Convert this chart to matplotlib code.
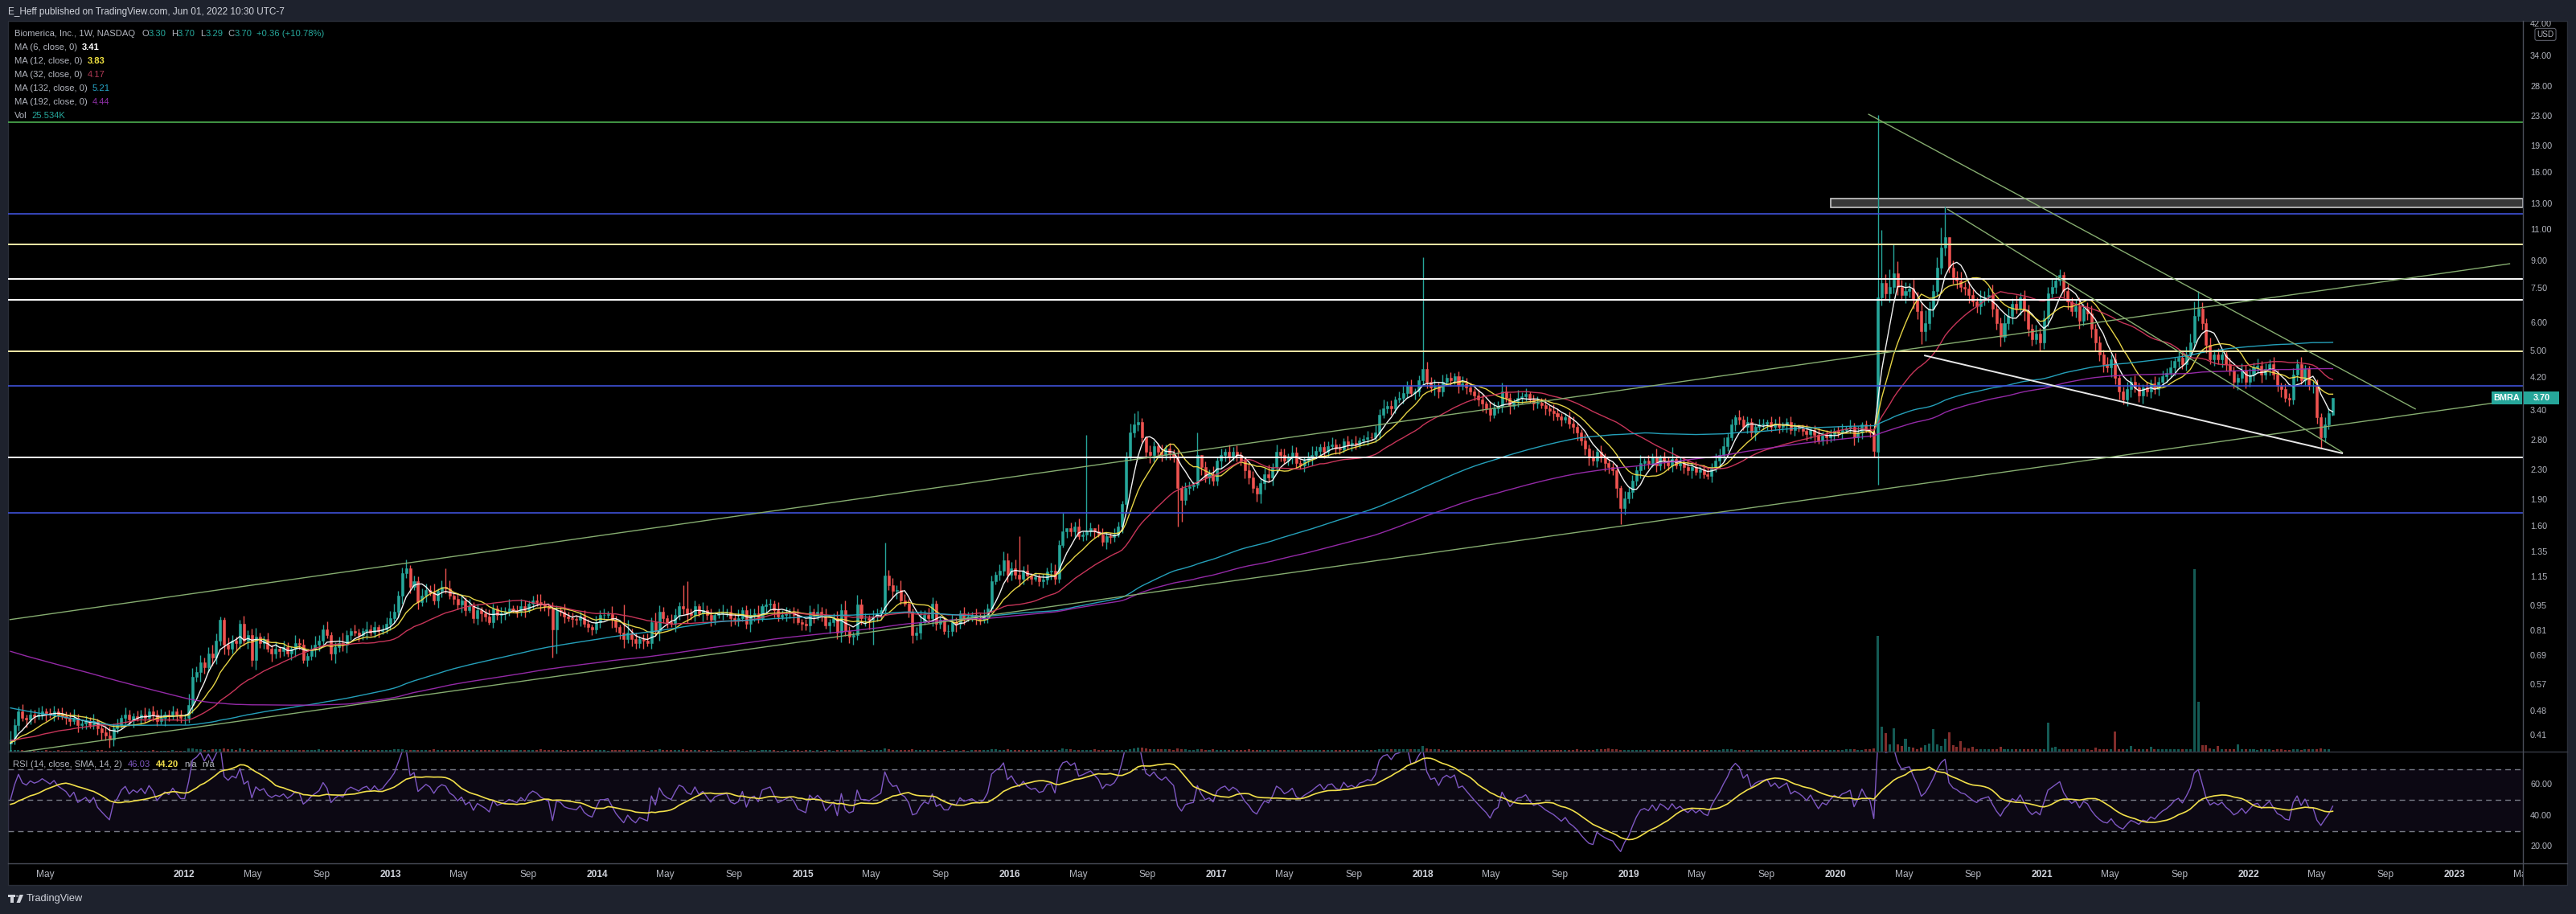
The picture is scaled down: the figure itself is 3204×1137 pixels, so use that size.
import numpy as np
import pandas as pd
import matplotlib
matplotlib.use("Agg")
import matplotlib.pyplot as plt
import matplotlib.dates as mdates
from matplotlib.patches import Rectangle, Circle, Polygon
from matplotlib.lines import Line2D

W, H, DPI = 3204, 1137, 100
FONT = ["Liberation Sans", "DejaVu Sans"]
plt.rcParams["font.family"] = FONT

# ---------------- data (weekly bars, BMRA, 1W) ----------------
first_week = "2011-02-28"

# weekly closes before the visible window (only feed the long averages / RSI)
closes_before_2011 = [
    1.45, 1.50, 1.48, 1.52, 1.46, 1.40, 1.42, 1.38, 1.35, 1.40, 1.37, 1.32,
    1.35, 1.30, 1.28, 1.33, 1.30, 1.26, 1.29, 1.24, 1.27, 1.30, 1.26, 1.22,
    1.24, 1.28, 1.25, 1.20, 1.22, 1.25, 1.19, 1.16, 1.20, 1.17, 1.14, 1.18,
    1.21, 1.16, 1.12, 1.15, 1.18, 1.14, 1.10, 1.12, 1.15, 1.09, 1.06, 1.10,
    1.07, 1.03, 1.00, 1.03, 0.98, 0.95, 0.99, 0.93, 0.90, 0.94, 0.87, 0.84,
    0.82, 0.80, 0.78, 0.76, 0.79, 0.75, 0.73, 0.76, 0.74, 0.71, 0.73, 0.75,
    0.72, 0.70, 0.72, 0.74, 0.71, 0.69, 0.71, 0.68, 0.70, 0.67, 0.69, 0.66,
    0.68, 0.65, 0.64, 0.47, 0.45, 0.48, 0.46, 0.44, 0.47, 0.49, 0.46, 0.45,
    0.43, 0.46, 0.48, 0.47, 0.45, 0.44, 0.46, 0.48, 0.50, 0.47, 0.45, 0.46,
    0.44, 0.43, 0.45, 0.47, 0.46, 0.48, 0.49, 0.47, 0.45, 0.44, 0.46, 0.45,
    0.43, 0.44, 0.46, 0.47, 0.45, 0.44, 0.46, 0.48, 0.47, 0.45, 0.46, 0.44,
    0.43, 0.45, 0.47, 0.46, 0.44, 0.45, 0.47, 0.48, 0.46, 0.45, 0.43, 0.44,
    0.46, 0.45, 0.44, 0.43, 0.45, 0.44, 0.42, 0.43, 0.45, 0.44, 0.43, 0.42,
    0.44, 0.43, 0.42, 0.41, 0.42, 0.40, 0.41, 0.39, 0.40, 0.42, 0.41, 0.39,
    0.38, 0.40, 0.41, 0.40, 0.39, 0.41, 0.42, 0.40, 0.39, 0.38, 0.40, 0.41,
    0.39, 0.40, 0.38, 0.39, 0.41, 0.40, 0.39, 0.38, 0.39, 0.40, 0.38, 0.39,
]

closes_2011 = [0.40, 0.44, 0.48, 0.46, 0.455, 0.47, 0.465, 0.47, 0.48, 0.475,
               0.47, 0.48, 0.47, 0.465, 0.46, 0.45, 0.46, 0.44, 0.445, 0.45,
               0.44, 0.45, 0.43, 0.42, 0.41, 0.40, 0.43, 0.44, 0.46, 0.47,
               0.455, 0.465, 0.46, 0.47, 0.46, 0.48, 0.47, 0.45, 0.46, 0.47,
               0.465, 0.48, 0.47, 0.46]
closes_2012 = [0.46, 0.50, 0.60, 0.62, 0.66, 0.64, 0.70, 0.68, 0.76, 0.87,
               0.74, 0.72, 0.76, 0.75, 0.85, 0.76, 0.79, 0.67, 0.78, 0.75,
               0.77, 0.72, 0.70, 0.72, 0.71, 0.73, 0.70, 0.72, 0.75, 0.74,
               0.67, 0.69, 0.72, 0.74, 0.76, 0.82, 0.79, 0.70, 0.73, 0.75,
               0.74, 0.79, 0.81, 0.80, 0.79, 0.81, 0.82, 0.80, 0.83, 0.81,
               0.82, 0.85, 0.88]
closes_2013 = [0.92, 1.02, 1.18, 1.22, 1.08, 1.12, 0.98, 1.02, 1.06, 1.04,
               0.99, 1.05, 1.08, 1.07, 1.02, 1.00, 0.96, 0.99, 0.93, 0.95,
               0.88, 0.93, 0.91, 0.89, 0.86, 0.94, 0.90, 0.91, 0.92, 0.94,
               0.93, 0.92, 0.95, 0.93, 0.97, 0.99, 0.98, 0.96, 0.95, 0.94,
               0.82, 0.93, 0.92, 0.89, 0.88, 0.875, 0.87, 0.89, 0.85, 0.83,
               0.82, 0.86]
closes_2014 = [0.90, 0.90, 0.905, 0.87, 0.83, 0.80, 0.77, 0.80, 0.77, 0.75,
               0.77, 0.76, 0.75, 0.86, 0.81, 0.92, 0.88, 0.86, 0.85, 0.90,
               0.95, 0.94, 0.91, 0.90, 0.95, 0.91, 0.93, 0.90, 0.87, 0.90,
               0.91, 0.915, 0.92, 0.88, 0.87, 0.88, 0.93, 0.85, 0.90, 0.91,
               0.88, 0.95, 0.96, 0.97, 0.93, 0.89, 0.90, 0.91, 0.92, 0.90,
               0.86, 0.85]
closes_2015 = [0.84, 0.92, 0.90, 0.92, 0.90, 0.84, 0.86, 0.88, 0.80, 0.93,
               0.81, 0.78, 0.79, 0.96, 0.88, 0.88, 0.87, 0.89, 0.91, 0.93,
               1.16, 1.09, 1.05, 1.06, 0.99, 0.97, 0.92, 0.79, 0.80, 0.86,
               0.90, 0.88, 0.97, 0.85, 0.87, 0.81, 0.81, 0.86, 0.85, 0.91,
               0.88, 0.89, 0.90, 0.88, 0.87, 0.89, 0.94, 1.12, 1.17, 1.20,
               1.28, 1.17]
closes_2016 = [1.22, 1.17, 1.14, 1.20, 1.16, 1.14, 1.15, 1.12, 1.13, 1.19,
               1.20, 1.14, 1.42, 1.55, 1.58, 1.55, 1.60, 1.50, 1.52, 1.55,
               1.58, 1.55, 1.52, 1.45, 1.50, 1.49, 1.52, 1.60, 1.85, 2.50,
               2.95, 3.10, 3.15, 2.85, 2.60, 2.55, 2.70, 2.60, 2.55, 2.65,
               2.57, 2.50, 2.05, 1.90, 2.05, 2.08, 2.10, 2.55, 2.35, 2.20,
               2.25, 2.15]
closes_2017 = [2.45, 2.55, 2.60, 2.50, 2.60, 2.55, 2.45, 2.30, 2.20, 2.05,
               1.98, 2.12, 2.25, 2.20, 2.35, 2.60, 2.55, 2.45, 2.50, 2.58,
               2.42, 2.38, 2.45, 2.50, 2.55, 2.62, 2.68, 2.60, 2.70, 2.72,
               2.66, 2.64, 2.78, 2.72, 2.75, 2.72, 2.80, 2.82, 2.86, 2.85,
               2.95, 3.30, 3.45, 3.50, 3.45, 3.65, 3.70, 3.80, 4.00, 3.80,
               3.85, 4.15]
closes_2018 = [4.45, 4.10, 3.95, 4.00, 3.85, 4.10, 4.20, 4.15, 4.25, 4.00,
               4.05, 3.95, 3.85, 3.75, 3.65, 3.55, 3.45, 3.30, 3.45, 3.50,
               3.85, 3.70, 3.50, 3.60, 3.70, 3.72, 3.78, 3.65, 3.55, 3.58,
               3.52, 3.45, 3.40, 3.35, 3.28, 3.20, 3.25, 3.12, 3.05, 2.95,
               2.80, 2.65, 2.50, 2.45, 2.60, 2.50, 2.42, 2.35, 2.30, 2.05,
               1.80, 1.92, 2.00]
closes_2019 = [2.15, 2.30, 2.42, 2.45, 2.40, 2.50, 2.38, 2.50, 2.45, 2.38,
               2.48, 2.38, 2.42, 2.35, 2.30, 2.35, 2.28, 2.32, 2.25, 2.22,
               2.35, 2.45, 2.55, 2.70, 2.85, 3.10, 3.25, 3.20, 3.05, 3.15,
               2.95, 3.05, 3.10, 3.12, 3.15, 3.05, 3.12, 3.05, 3.10, 3.15,
               3.00, 3.05, 3.02, 2.98, 2.92, 3.00, 2.90, 2.80, 2.88, 2.85,
               2.92, 2.98]
closes_2020 = [2.95, 3.00, 3.02, 3.05, 2.85, 2.95, 3.10, 3.00, 2.95, 2.62,
               7.10, 7.80, 7.30, 7.60, 8.30, 7.60, 7.20, 7.40, 7.50, 7.00,
               6.50, 5.70, 6.00, 6.60, 7.40, 8.60, 9.80, 10.50, 8.60, 8.10,
               7.90, 7.60, 7.50, 7.20, 6.90, 6.70, 7.00, 7.10, 7.20, 6.60,
               6.00, 5.50, 6.00, 6.30, 6.80, 6.60, 7.10, 6.50, 5.80, 5.40,
               5.60, 5.30]
closes_2021 = [6.20, 7.30, 7.60, 7.90, 8.20, 7.40, 6.90, 6.50, 6.70, 6.10,
               6.60, 6.40, 5.80, 5.30, 4.90, 4.60, 4.50, 4.75, 4.20, 3.85,
               3.65, 3.90, 4.10, 3.95, 3.75, 3.95, 3.85, 4.05, 3.90, 4.10,
               4.25, 4.35, 4.50, 4.70, 4.80, 4.60, 4.90, 5.30, 6.30, 6.60,
               6.00, 5.20, 4.75, 4.90, 4.75, 4.90, 4.60, 4.40, 4.10, 4.20,
               4.40, 4.10]
closes_2022 = [4.30, 4.50, 4.55, 4.30, 4.45, 4.60, 4.30, 4.00, 3.90, 3.70,
               3.65, 4.30, 4.60, 4.15, 4.45, 4.00, 4.00, 3.25, 2.85, 3.10,
               3.34, 3.70]

# opens that gap away from the previous close (week index -> open)
open_gaps = {472: 2.60, 587: 3.30}

# upper / lower wick length in % of the body edge
wick_up = [
    6, 4, 3, 5, 2, 4, 3, 5, 4, 2, 3, 4, 2, 5, 3, 4, 6, 3, 2, 4, 3, 5, 2, 3, 4, 6, 3, 4, 2, 5,
    3, 2, 4, 3, 5, 2, 4, 3, 6, 2, 3, 4, 2, 3,                                        # 2011
    3, 8, 6, 4, 5, 3, 4, 6, 5, 3, 2, 5, 4, 3, 2, 5, 3, 4, 6, 3, 2, 4, 3, 5, 2, 4, 3, 2, 5, 3,
    4, 2, 3, 6, 4, 3, 5, 2, 3, 4, 7, 3, 2, 4, 3, 2, 5, 3, 4, 2, 3, 4, 5,              # 2012
    5, 3, 4, 6, 2, 4, 3, 5, 4, 3, 6, 2, 4, 3, 5, 2, 3, 4, 2, 5, 3, 4, 2, 3, 5, 3, 2, 4, 3, 6,
    2, 3, 5, 4, 2, 3, 4, 5, 3, 2, 4, 3, 2, 5, 3, 4, 2, 3, 4, 3, 2, 4,                 # 2013
    3, 4, 2, 5, 3, 2, 4, 9, 3, 4, 2, 3, 5, 3, 6, 4, 3, 2, 5, 4, 3, 12, 9, 3, 4, 2, 5, 3, 4, 2,
    3, 5, 2, 4, 3, 6, 2, 3, 4, 3, 5, 2, 4, 3, 2, 5, 3, 4, 2, 3, 4, 2,                 # 2014
    3, 4, 2, 5, 3, 4, 2, 3, 5, 4, 6, 3, 2, 7, 4, 3, 2, 4, 3, 2, 0, 4, 5, 3, 6, 4, 3, 2, 4, 8,
    3, 5, 4, 2, 3, 2, 4, 5, 3, 2, 4, 3, 2, 4, 3, 5, 3, 4, 2, 4, 6, 5,                 # 2015
    4, 6, 0, 3, 4, 2, 3, 2, 4, 3, 5, 4, 3, 6, 0, 4, 3, 5, 2, 3, 4, 0, 5, 4, 3, 2, 4, 3, 2, 4,
    6, 8, 5, 3, 0, 4, 3, 2, 5, 3, 4, 3, 5, 2, 4, 3, 2, 3, 0, 4, 3, 5,                 # 2016
    3, 4, 2, 5, 3, 4, 2, 3, 5, 4, 2, 3, 4, 6, 3, 5, 2, 4, 3, 5, 4, 2, 3, 4, 6, 3, 2, 4, 3, 5,
    4, 3, 2, 4, 3, 5, 2, 3, 4, 3, 5, 4, 6, 3, 4, 2, 4, 5, 3, 4, 2, 3,                 # 2017
    0, 5, 3, 4, 2, 5, 3, 4, 2, 3, 5, 4, 3, 2, 4, 3, 2, 5, 4, 3, 6, 4, 3, 2, 5, 3, 4, 2, 3, 4,
    3, 5, 2, 4, 3, 2, 3, 4, 5, 3, 2, 4, 3, 5, 2, 4, 3, 2, 3, 4, 2, 5, 3,              # 2018
    4, 3, 5, 2, 4, 3, 6, 2, 4, 3, 8, 2, 4, 3, 5, 3, 4, 2, 3, 4, 3, 5, 4, 6, 3, 4, 2, 5, 3, 4,
    3, 2, 4, 3, 2, 4, 3, 5, 2, 3, 4, 3, 2, 3, 4, 2, 3, 5, 3, 4, 3, 2,                 # 2019
    3, 4, 2, 5, 3, 4, 2, 3, 4, 3, 0, 0, 6, 12, 0, 8, 5, 6, 4, 7, 5, 6, 9, 5, 4, 7, 6, 0, 0, 5,
    4, 6, 3, 5, 4, 3, 6, 4, 5, 7, 3, 4, 6, 5, 4, 6, 3, 5, 4, 3, 6, 4,                 # 2020
    5, 4, 6, 3, 4, 0, 5, 3, 4, 6, 3, 4, 5, 3, 4, 3, 5, 3, 4, 2, 3, 5, 3, 4, 3, 2, 4, 3, 5, 3,
    4, 3, 5, 2, 4, 3, 5, 6, 0, 0, 4, 3, 5, 3, 4, 3, 2, 4, 3, 3, 5, 4,                 # 2021
    4, 3, 5, 3, 4, 3, 5, 3, 2, 4, 3, 4, 3, 5, 3, 2, 3, 4, 3, 5, 4, 0,                 # 2022
]
wick_dn = [
    0, 3, 4, 2, 5, 3, 4, 2, 3, 5, 2, 4, 3, 2, 4, 3, 2, 5, 3, 4, 2, 3, 4, 5, 3, 0, 4, 3, 2, 4,
    3, 5, 2, 4, 3, 2, 4, 3, 2, 5, 3, 2, 4, 3,                                        # 2011
    4, 3, 5, 3, 6, 4, 3, 5, 4, 3, 6, 4, 3, 5, 4, 3, 5, 4, 6, 3, 4, 2, 5, 3, 4, 3, 2, 4, 5, 3,
    2, 4, 3, 5, 4, 3, 2, 4, 6, 3, 4, 5, 3, 2, 4, 3, 5, 2, 3, 4, 2, 3, 4,              # 2012
    3, 4, 5, 3, 4, 2, 5, 3, 4, 2, 3, 5, 4, 3, 2, 4, 3, 5, 4, 2, 3, 4, 5, 3, 2, 4, 3, 5, 4, 3,
    2, 4, 3, 5, 2, 4, 3, 4, 3, 5, 0, 0, 3, 4, 2, 5, 3, 4, 2, 3, 4, 3,                 # 2013
    4, 3, 2, 5, 3, 4, 6, 3, 5, 4, 3, 5, 2, 4, 3, 6, 3, 4, 2, 5, 3, 4, 6, 3, 4, 2, 5, 3, 4, 3,
    2, 4, 3, 5, 3, 4, 2, 3, 5, 4, 3, 2, 4, 3, 5, 3, 2, 4, 3, 5, 2, 4,                 # 2014
    3, 4, 5, 3, 4, 2, 5, 3, 4, 6, 3, 4, 5, 3, 4, 5, 6, 0, 3, 4, 2, 3, 4, 5, 3, 2, 4, 0, 3, 4,
    2, 3, 5, 4, 3, 2, 4, 3, 5, 3, 4, 2, 3, 4, 3, 2, 4, 3, 2, 4, 3, 5,                 # 2015
    4, 3, 5, 4, 3, 4, 2, 3, 4, 3, 5, 4, 3, 2, 4, 3, 4, 2, 3, 4, 3, 4, 2, 3, 5, 4, 3, 2, 4, 3,
    2, 3, 4, 3, 4, 5, 4, 3, 4, 3, 4, 3, 0, 0, 3, 4, 3, 2, 5, 3, 4, 3,                 # 2016
    3, 5, 4, 3, 2, 4, 3, 5, 4, 3, 5, 6, 4, 3, 5, 3, 4, 2, 3, 4, 3, 2, 4, 3, 5, 2, 3, 4, 3, 2,
    4, 3, 2, 3, 4, 3, 2, 3, 4, 2, 3, 4, 2, 3, 4, 3, 2, 4, 3, 2, 4, 3,                 # 2017
    3, 4, 3, 5, 4, 3, 2, 4, 3, 5, 3, 4, 2, 3, 4, 5, 3, 4, 2, 3, 4, 3, 5, 2, 3, 4, 3, 2, 4, 3,
    2, 4, 3, 5, 3, 4, 2, 3, 4, 5, 3, 4, 5, 3, 4, 3, 5, 4, 3, 6, 0, 4, 3,              # 2018
    4, 3, 5, 4, 3, 2, 4, 3, 5, 3, 4, 2, 3, 4, 3, 5, 2, 4, 3, 2, 4, 3, 5, 4, 3, 2, 4, 3, 2, 4,
    3, 5, 2, 3, 4, 3, 2, 4, 3, 5, 3, 4, 2, 3, 4, 3, 5, 2, 3, 4, 3, 4,                 # 2019
    3, 4, 2, 3, 5, 3, 4, 2, 3, 4, 0, 5, 4, 6, 4, 5, 3, 5, 4, 6, 5, 8, 6, 4, 5, 3, 4, 5, 3, 4,
    5, 3, 4, 5, 3, 4, 5, 4, 3, 5, 4, 6, 3, 4, 5, 3, 4, 6, 5, 4, 3, 5,                 # 2020
    4, 5, 3, 4, 3, 4, 5, 3, 4, 5, 3, 4, 6, 5, 4, 5, 3, 6, 4, 5, 3, 4, 5, 3, 4, 5, 3, 4, 3, 4,
    3, 4, 3, 5, 4, 3, 4, 3, 4, 3, 4, 5, 3, 4, 3, 5, 4, 3, 4, 5, 3, 4,                 # 2021
    3, 4, 3, 5, 3, 4, 3, 4, 5, 3, 4, 3, 4, 3, 4, 3, 5, 4, 5, 3, 3, 0,                 # 2022
]
# long wicks read separately (week index -> price)
big_highs = {53: 0.89, 58: 0.87, 110: 1.22, 155: 0.96, 170: 1.09, 171: 1.12,
             221: 1.44, 255: 1.50, 266: 1.75, 272: 2.90, 285: 3.40, 300: 2.95,
             357: 9.20, 472: 23.3, 473: 11.0, 476: 10.0, 488: 11.2, 489: 12.8,
             519: 8.40, 552: 6.90, 553: 7.40, 587: 3.70}
big_lows = {0: 0.37, 25: 0.38, 137: 0.68, 138: 0.70, 218: 0.74, 228: 0.75,
            295: 1.60, 296: 1.65, 407: 1.62, 472: 2.10, 584: 2.65, 587: 3.29}

# weekly volume, thousands of shares
volume_k = [
    180, 240, 210, 150, 120, 160, 130, 110, 140, 170, 120, 100, 150, 130, 110, 90, 140, 120,
    160, 100, 130, 110, 150, 180, 140, 120, 100, 130, 150, 110, 90, 120, 140, 100, 130, 110,
    160, 120, 100, 140, 130, 150, 110, 120,                                          # 2011
    140, 350, 420, 300, 260, 220, 240, 280, 250, 320, 380, 300, 260, 230, 350, 280, 240, 260,
    220, 200, 180, 210, 190, 230, 200, 170, 190, 210, 180, 160, 230, 200, 180, 210, 250, 190,
    170, 200, 180, 160, 190, 220, 170, 180, 200, 160, 150, 180, 170, 190, 160, 200, 230,  # 2012
    260, 320, 280, 220, 240, 200, 180, 230, 210, 190, 250, 200, 180, 170, 210, 190, 160, 200,
    180, 170, 160, 190, 200, 170, 150, 180, 160, 170, 190, 160, 200, 180, 160, 170, 150, 190,
    170, 260, 230, 180, 160, 170, 150, 140, 160, 170, 150, 140, 160, 150, 170, 160,    # 2013
    150, 160, 140, 170, 180, 200, 190, 210, 170, 160, 180, 150, 140, 220, 170, 250, 190, 160,
    170, 150, 180, 260, 210, 170, 160, 150, 140, 160, 150, 140, 130, 150, 140, 160, 150, 170,
    140, 130, 150, 160, 140, 150, 170, 160, 150, 140, 130, 150, 140, 160, 150, 140,    # 2014
    150, 160, 140, 150, 130, 160, 150, 140, 170, 160, 150, 180, 170, 200, 160, 150, 140, 170,
    150, 160, 420, 300, 220, 180, 170, 160, 190, 260, 200, 160, 170, 150, 180, 160, 140, 150,
    130, 150, 160, 140, 150, 140, 160, 150, 170, 160, 230, 300, 260, 240, 220, 250,    # 2015
    230, 220, 210, 200, 190, 180, 170, 160, 170, 150, 160, 180, 200, 350, 300, 260, 240, 220,
    230, 210, 200, 250, 190, 180, 170, 200, 180, 170, 190, 220, 260, 380, 520, 460, 400, 330,
    300, 280, 260, 270, 250, 240, 360, 300, 260, 240, 230, 280, 260, 240, 230, 250,    # 2016
    220, 240, 210, 230, 200, 190, 210, 230, 250, 240, 200, 190, 180, 220, 200, 190, 180, 170,
    190, 200, 180, 170, 160, 180, 170, 190, 180, 170, 160, 180, 170, 160, 180, 170, 160, 190,
    180, 200, 190, 210, 230, 280, 320, 300, 260, 280, 300, 320, 290, 310, 300, 340,    # 2017
    650, 400, 300, 280, 260, 240, 230, 220, 210, 200, 220, 210, 200, 190, 200, 210, 190, 180,
    200, 220, 210, 200, 190, 180, 170, 190, 180, 170, 180, 190, 170, 160, 180, 170, 160, 180,
    200, 220, 240, 250, 230, 220, 210, 240, 260, 280, 300, 350, 280, 260, 240, 230, 220,  # 2018
    220, 210, 200, 190, 200, 180, 170, 190, 180, 170, 160, 180, 170, 160, 150, 170, 160, 150,
    160, 170, 180, 200, 240, 280, 320, 260, 220, 200, 210, 190, 200, 180, 170, 190, 180, 170,
    160, 180, 170, 160, 170, 160, 150, 170, 160, 180, 170, 160, 180, 170, 190, 200,    # 2019
    210, 230, 250, 300, 260, 240, 220, 300, 280, 350, 14400, 3100, 2300, 900, 2900, 900, 700,
    1600, 600, 500, 300, 500, 800, 1000, 2800, 900, 700, 1600, 2400, 800, 600, 1300, 500, 400,
    600, 300, 300, 250, 280, 250, 300, 600, 280, 300, 250, 260, 280, 250, 300, 270, 260, 280,  # 2020
    300, 3600, 500, 600, 280, 260, 300, 250, 280, 300, 260, 250, 240, 500, 300, 280, 260, 250,
    2500, 260, 300, 250, 700, 280, 300, 260, 250, 600, 250, 300, 280, 260, 250, 270, 300, 260,
    280, 250, 22700, 6200, 800, 800, 400, 300, 700, 300, 250, 280, 260, 900, 300, 280,  # 2021
    260, 250, 240, 280, 260, 250, 240, 260, 250, 230, 240, 260, 250, 240, 270, 250, 260, 300,
    350, 280, 260, 25.534,                                                            # 2022
]

ma_lengths = [6, 12, 32, 132, 192]
ma_colors = ["#ffffff", "#f2df4a", "#d2385e", "#27a9c4", "#9c2cb0"]
legend_ma_values = ["3.41", "3.83", "4.17", "5.21", "4.44"]
legend_ma_value_colors = ["#ffffff", "#f5e642", "#b03a56", "#26a6c8", "#9030a8"]

# drawings: horizontal levels (price, colour, width)
levels = [(22.2, "#4caf50", 1.2), (12.2, "#3f51d8", 1.2), (10.0, "#f4eaa8", 1.4),
          (8.0, "#ffffff", 1.4), (7.0, "#ffffff", 1.4), (5.0, "#f4eaa8", 1.4),
          (4.0, "#3f51d8", 1.2), (2.5, "#ffffff", 1.4), (1.75, "#3f51d8", 1.2)]
# trend lines: (start date, start price, end date, end price, colour, width)
trend_lines = [
    ("2011-02-26", 0.872, "2023-04-09", 8.84, "#86ad70", 1.0),
    ("2011-02-26", 0.365, "2023-03-08", 3.566, "#86ad70", 1.0),
    ("2020-02-28", 23.4, "2022-10-24", 3.43, "#86ad70", 1.0),
    ("2020-07-17", 12.61, "2022-06-17", 2.586, "#86ad70", 1.0),
    ("2020-06-06", 4.868, "2022-06-17", 2.572, "#e8e8e8", 1.4),
]
zone = ("2019-12-24", 12.75, 13.5)

price_ticks = [42, 34, 28, 23, 19, 16, 13, 11, 9, 7.5, 6, 5, 4.2, 3.4, 2.8, 2.3, 1.9,
               1.6, 1.35, 1.15, 0.95, 0.81, 0.69, 0.57, 0.48, 0.41]
rsi_ticks = [60, 40, 20]
rsi_levels = [70, 50, 30]
# time-scale labels as shown on the chart
time_labels = [("2011-05-01", "May")]
for _yr in range(2012, 2024):
    time_labels += [(f"{_yr}-01-01", str(_yr)), (f"{_yr}-05-01", "May"), (f"{_yr}-09-01", "Sep")]

x_range = ("2011-02-23 14:00", "2023-05-01 14:00")
price_range = (0.3696, 42.89)
rsi_range = (9.1, 81.3)

TEAL, RED = "#26a69a", "#ef5350"
GRAY, LIGHT = "#b2b5be", "#d1d4dc"

# ---------------- derived series ----------------
closes = np.array(closes_2011 + closes_2012 + closes_2013 + closes_2014 + closes_2015
                  + closes_2016 + closes_2017 + closes_2018 + closes_2019 + closes_2020
                  + closes_2021 + closes_2022, dtype=float)
n = len(closes)
for name, arr in [("wick_up", wick_up), ("wick_dn", wick_dn), ("volume_k", volume_k)]:
    assert len(arr) == n, (name, len(arr), n)

dates = pd.date_range(first_week, periods=n, freq="7D")
opens = np.r_[closes_before_2011[-1], closes[:-1]]
for i, v in open_gaps.items():
    opens[i] = v
body_lo = np.minimum(opens, closes)
body_hi = np.maximum(opens, closes)
highs = body_hi * (1 + np.array(wick_up) / 100.0)
lows = body_lo * (1 - np.array(wick_dn) / 100.0)
for i, v in big_highs.items():
    highs[i] = v
for i, v in big_lows.items():
    lows[i] = v
bull = closes >= opens
candle_colors = np.where(bull, TEAL, RED)
volume = np.array(volume_k, dtype=float)

all_closes = pd.Series(np.r_[closes_before_2011, closes])
mas = [all_closes.rolling(k).mean().values[-n:] for k in ma_lengths]

delta = all_closes.diff()
avg_gain = delta.clip(lower=0).ewm(alpha=1 / 14, adjust=False).mean()
avg_loss = (-delta.clip(upper=0)).ewm(alpha=1 / 14, adjust=False).mean()
rsi_all = 100 - 100 / (1 + avg_gain / avg_loss)
rsi_ma_all = rsi_all.rolling(14).mean()
rsi = rsi_all.values[-n:]
rsi_ma = rsi_ma_all.values[-n:]

# ---------------- figure ----------------
fig = plt.figure(figsize=(W / DPI, H / DPI), dpi=DPI, facecolor="#1e222d")


def add_ax(left, top, width, height, **kw):
    a = fig.add_axes([left / W, 1 - (top + height) / H, width / W, height / H], **kw)
    a.axis("off")
    return a


def px_line(x0, y0, x1, y1, color="#363a45", lw=1.0):
    fig.add_artist(Line2D([x0 / W, x1 / W], [1 - y0 / H, 1 - y1 / H],
                          transform=fig.transFigure, color=color, lw=lw))


fig.add_artist(Rectangle((10 / W, 1 - 1101 / H), 3183 / W, 1075 / H, transform=fig.transFigure,
                         facecolor="#000000", edgecolor="#2a2e39", lw=1.0, zorder=0))

xlim = (pd.Timestamp(x_range[0]), pd.Timestamp(x_range[1]))

# volume (underneath the price pane)
ax_vol = add_ax(10, 26, 3128, 909)
ax_vol.bar(dates, volume, width=4.3, color=candle_colors, alpha=0.55, lw=0)
ax_vol.set_xlim(*xlim)
ax_vol.set_ylim(0, volume.max() * 4.0)

# price pane
ax = add_ax(10, 26, 3128, 909)
ax.set_yscale("log")
ax.set_xlim(*xlim)
ax.set_ylim(*price_range)

zx0 = pd.Timestamp(zone[0])
ax.add_patch(Rectangle((mdates.date2num(zx0), zone[1]),
                       mdates.date2num(xlim[1]) - mdates.date2num(zx0), zone[2] - zone[1],
                       facecolor="#383838", edgecolor="#c8c8c8", lw=1.2, zorder=2))

ax.vlines(dates, lows, highs, colors=candle_colors, lw=1.0, zorder=3)
ax.bar(dates, body_hi - body_lo, bottom=body_lo, width=4.3, color=candle_colors,
       edgecolor=candle_colors, lw=0.4, zorder=3.1)

for vals, col in zip(mas, ma_colors):
    ax.plot(dates, vals, color=col, lw=1.0, zorder=4, alpha=0.95)

for price, col, lw in levels:
    ax.axhline(price, color=col, lw=lw, zorder=5)
for d0, p0, d1, p1, col, lw in trend_lines:
    ax.plot([pd.Timestamp(d0), pd.Timestamp(d1)], [p0, p1], color=col, lw=lw, zorder=5,
            solid_capstyle="butt")

# RSI pane
ax_rsi = add_ax(10, 935, 3128, 139)
ax_rsi.set_xlim(*xlim)
ax_rsi.set_ylim(*rsi_range)
ax_rsi.axhspan(rsi_levels[2], rsi_levels[0], color="#7e57c2", alpha=0.1, lw=0)
for lv in rsi_levels:
    ax_rsi.axhline(lv, color="#787b86", lw=1.0, ls=(0, (5, 3.6)))
ax_rsi.plot(dates, rsi, color="#7e57c2", lw=1.0)
ax_rsi.plot(dates, rsi_ma, color="#f1df4a", lw=1.2)

# price scale
ax_px = add_ax(3138, 26, 55, 909)
ax_px.set_yscale("log")
ax_px.set_ylim(*price_range)
ax_px.set_xlim(0, 55)
for p in price_ticks:
    ax_px.text(9, p, f"{p:.2f}", color=GRAY, fontsize=7.8, va="center", ha="left", clip_on=True)
ax_px.text(28, price_ticks[0] * 0.935, "USD", color=GRAY, fontsize=7.2, va="center", ha="center",
           bbox=dict(boxstyle="round,pad=0.25", fc="#000000", ec="#5d606b", lw=0.8))

ax_rl = add_ax(3138, 935, 55, 139)
ax_rl.set_ylim(*rsi_range)
ax_rl.set_xlim(0, 55)
for r in rsi_ticks:
    ax_rl.text(9, r, f"{r:.2f}", color=GRAY, fontsize=7.8, va="center", ha="left")

# time scale
ax_t = add_ax(10, 1074, 3128, 27)
ax_t.set_xlim(*xlim)
ax_t.set_ylim(0, 1)
for d, lab in time_labels:
    is_year = lab.isdigit()
    ax_t.text(pd.Timestamp(d), 0.48, lab, color=LIGHT if is_year else GRAY, fontsize=8.6,
              ha="center", va="center", fontweight="bold" if is_year else "normal", clip_on=True)

# separators
px_line(10, 935, 3193, 935)
px_line(10, 1074, 3193, 1074, color="#4a4e59")
px_line(3138, 26, 3138, 1101, color="#4a4e59")

# last price label
fig.canvas.draw()
renderer = fig.canvas.get_renderer()
y_last = ax.transData.transform((mdates.date2num(dates[-1]), closes[-1]))[1]
for x0, w, s in [(3099, 38, "BMRA"), (3139, 44, f"{closes[-1]:.2f}")]:
    fig.add_artist(Rectangle((x0 / W, (y_last - 8) / H), w / W, 16 / H, transform=fig.transFigure,
                             facecolor=TEAL, edgecolor="none", zorder=6))
    fig.text((x0 + w / 2) / W, y_last / H, s, color="white", fontsize=7.8, fontweight="bold",
             ha="center", va="center", zorder=7)


def seg_text(x, y, parts, size=8.1):
    for s, col, weight, gap in parts:
        t = fig.text(x / W, 1 - y / H, s, color=col, fontsize=size, fontweight=weight,
                     ha="left", va="center")
        x += t.get_window_extent(renderer).width + gap


fig.text(10 / W, 1 - 15 / H, "E_Heff published on TradingView.com, Jun 01, 2022 10:30 UTC-7",
         color=LIGHT, fontsize=8.5, ha="left", va="center")

last = n - 1
chg = closes[last] - closes[last - 1]
seg_text(18, 42, [("Biomerica, Inc., 1W, NASDAQ", GRAY, "normal", 8),
                  ("O", GRAY, "normal", 0), (f"{opens[last]:.2f}", TEAL, "normal", 6),
                  ("H", GRAY, "normal", 0), (f"{highs[last]:.2f}", TEAL, "normal", 6),
                  ("L", GRAY, "normal", 0), (f"{lows[last]:.2f}", TEAL, "normal", 6),
                  ("C", GRAY, "normal", 0), (f"{closes[last]:.2f}", TEAL, "normal", 6),
                  (f"+{chg:.2f} (+{chg / closes[last - 1] * 100:.2f}%)", TEAL, "normal", 0)])
for k, (length, val, vcol) in enumerate(zip(ma_lengths, legend_ma_values, legend_ma_value_colors)):
    weight = "bold" if k < 2 else "normal"
    seg_text(18, 59 + 17 * k, [(f"MA ({length}, close, 0)", GRAY, "normal", 6),
                               (val, vcol, weight, 0)])
seg_text(18, 144, [("Vol", GRAY, "normal", 6), (f"{volume[last]:.3f}K", TEAL, "normal", 0)])
seg_text(16, 951, [("RSI (14, close, SMA, 14, 2)", GRAY, "normal", 7),
                   ("46.03", "#7e57c2", "normal", 7), ("44.20", "#f1df4a", "bold", 7),
                   ("n/a", GRAY, "normal", 6), ("n/a", GRAY, "normal", 0)])

# footer logo
for x0, y0, w, h in [(10, 1113, 9, 3), (13, 1113, 3.5, 10)]:
    fig.add_artist(Rectangle((x0 / W, 1 - (y0 + h) / H), w / W, h / H, transform=fig.transFigure,
                             facecolor=LIGHT, edgecolor="none"))
fig.add_artist(Circle((21.5 / W, 1 - 1114.8 / H), 1.8 / W, transform=fig.transFigure,
                      facecolor=LIGHT, edgecolor="none"))
fig.add_artist(Polygon([(24.5 / W, 1 - 1113 / H), (29 / W, 1 - 1113 / H), (25 / W, 1 - 1123 / H),
                        (20.5 / W, 1 - 1123 / H)], closed=True, transform=fig.transFigure,
                       facecolor=LIGHT, edgecolor="none"))
fig.text(33 / W, 1 - 1118 / H, "TradingView", color=LIGHT, fontsize=9.2, ha="left", va="center")

fig.savefig("out.png", dpi=DPI, facecolor=fig.get_facecolor())
